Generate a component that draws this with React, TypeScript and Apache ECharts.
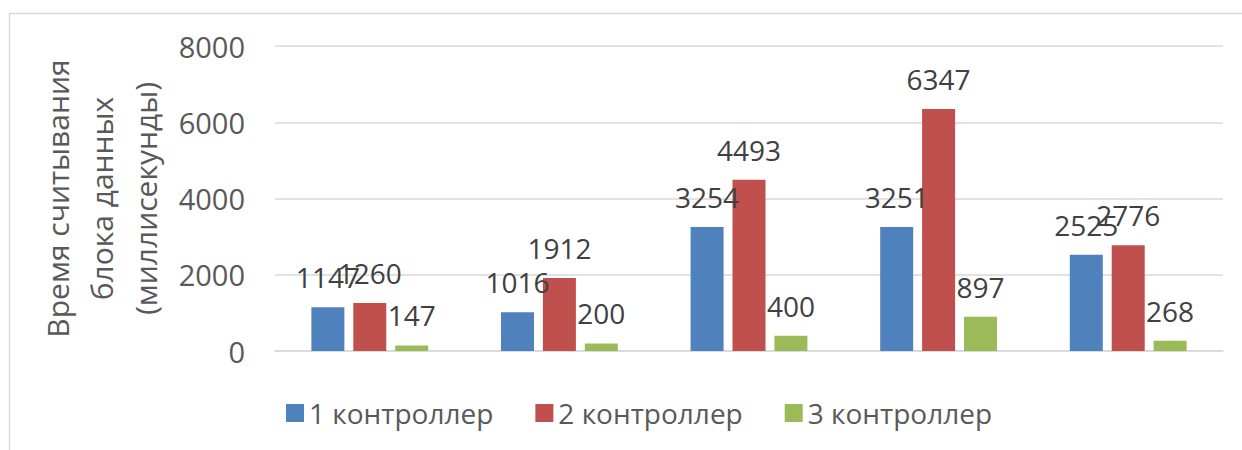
import React, { useEffect, useRef } from "react";
import * as echarts from "echarts";

const categories = ["1", "2", "3", "4", "5"];
const seriesNames = ["1 контроллер", "2 контроллер", "3 контроллер"];
const controller1 = [1147, 1016, 3254, 3251, 2525];
const controller2 = [1260, 1912, 4493, 6347, 2776];
const controller3 = [147, 200, 400, 897, 268];
const yTicks = { min: 0, max: 8000, interval: 2000 };
const yTitle = "Время считывания\nблока данных\n(миллисекунды)";

const colors = ["#4F81BD", "#C0504D", "#9BBB59"];
const FONT = "'Open Sans', sans-serif";

export default function App() {
  const ref = useRef<HTMLDivElement>(null);
  useEffect(() => {
    if (!ref.current) return;
    const chart = echarts.init(ref.current, undefined, { renderer: "svg" });
    const values = [controller1, controller2, controller3];
    chart.setOption({
      animation: false,
      backgroundColor: "#ffffff",
      textStyle: { fontFamily: FONT },
      graphic: [
        {
          type: "polyline",
          shape: { points: [[9.5, 460], [9.5, 13.5], [1250, 13.5]] },
          style: { stroke: "#D9D9D9", lineWidth: 1.5, fill: "none" },
          silent: true,
        },
      ],
      grid: { left: 275, right: 19, top: 46, bottom: 99, containLabel: false },
      legend: {
        left: 281,
        top: 394,
        itemWidth: 18,
        itemHeight: 18,
        itemGap: 42,
        icon: "rect",
        textStyle: { fontSize: 28, color: "#595959", fontFamily: FONT },
        data: seriesNames,
      },
      xAxis: {
        type: "category",
        data: categories,
        axisLine: { show: true, lineStyle: { color: "#D9D9D9", width: 1.5 } },
        axisTick: { show: false },
        axisLabel: { show: false },
      },
      yAxis: {
        type: "value",
        min: yTicks.min,
        max: yTicks.max,
        interval: yTicks.interval,
        axisLine: { show: false },
        axisTick: { show: false },
        axisLabel: {
          fontSize: 29,
          color: "#595959",
          margin: 30,
          fontFamily: FONT,
          formatter: (v: number) => String(v),
        },
        splitLine: { lineStyle: { color: "#D9D9D9", width: 1.5 } },
        name: yTitle,
        nameLocation: "middle",
        nameRotate: 90,
        nameGap: 97,
        nameTextStyle: { fontSize: 30, lineHeight: 44, color: "#595959", fontFamily: FONT },
      },
      series: seriesNames.map((name, i) => ({
        name,
        type: "bar",
        data: values[i],
        barWidth: 33,
        barGap: "27%",
        itemStyle: { color: colors[i] },
        label: {
          show: true,
          position: "top",
          distance: 16,
          fontSize: 28,
          color: "#404040",
          fontFamily: FONT,
        },
      })),
    });
    return () => chart.dispose();
  }, []);
  return (
    <div
      ref={ref}
      style={{ position: "fixed", left: 0, top: 0, width: 1242, height: 450 }}
    />
  );
}
